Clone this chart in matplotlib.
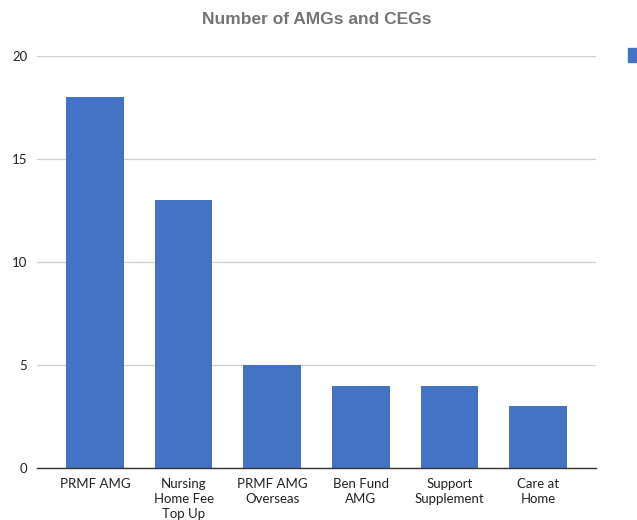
import matplotlib
matplotlib.use("Agg")
import matplotlib.pyplot as plt
from matplotlib.patches import Rectangle

# dados
categorias = ["PRMF AMG", "Nursing\nHome Fee\nTop Up", "PRMF AMG\nOverseas",
              "Ben Fund\nAMG", "Support\nSupplement", "Care at\nHome"]
valores = [18, 13, 5, 4, 4, 3]
yticks = [0, 5, 10, 15, 20]

azul = "#4472C4"

fig = plt.figure(figsize=(6.37, 5.2), dpi=100)
ax = fig.add_axes([37 / 637, 1 - 468 / 520, (596 - 37) / 637, (468 - 56) / 520])

x = range(len(categorias))
ax.bar(x, valores, width=0.65, color=azul, zorder=3)

ax.set_xlim(-0.655, len(categorias) - 1 + 0.655)
ax.set_ylim(0, 20)
ax.set_yticks(yticks)
ax.set_xticks(list(x))
ax.set_xticklabels(categorias, fontfamily="Lato", fontsize=9.5, color="#222222",
                   linespacing=1.3, va="top")
ax.set_yticklabels([str(t) for t in yticks], fontfamily="Lato", fontsize=9.5,
                   color="#222222")
ax.tick_params(length=0, pad=7)
ax.tick_params(axis="y", pad=7)

ax.grid(axis="y", color="#d0d0d0", linewidth=0.9, zorder=0)
for s in ["left", "right", "top"]:
    ax.spines[s].set_visible(False)
ax.spines["bottom"].set_color("#333333")
ax.spines["bottom"].set_linewidth(1.0)
ax.spines["bottom"].set_zorder(4)

fig.text(0.5 * (37 + 596) / 637, 1 - 20 / 520, "Number of AMGs and CEGs",
         ha="center", va="center", fontfamily="Liberation Sans",
         fontweight="bold", fontsize=12.5, color="#757575")

# legenda cortada na borda direita
fig.patches.append(Rectangle((628 / 637, 1 - 62 / 520), 12 / 637, 14 / 520,
                             transform=fig.transFigure, color=azul))

fig.savefig("out.png", dpi=100)
